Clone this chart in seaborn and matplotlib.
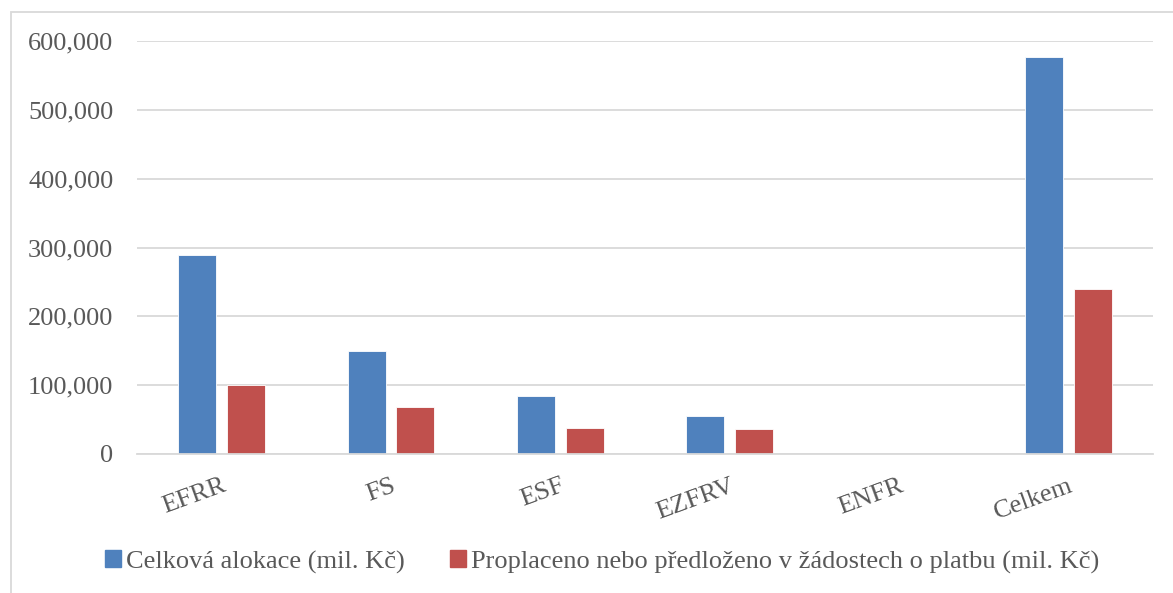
import matplotlib
matplotlib.use("Agg")
import matplotlib.pyplot as plt
from matplotlib.patches import Rectangle
from matplotlib.ticker import FuncFormatter
import pandas as pd
import seaborn as sns

# Values (mil. Kč)
categories = ['EFRR', 'FS', 'ESF', 'EZFRV', 'ENFR', 'Celkem']
alokace = [288700, 149200, 83800, 54800, 0, 576400]
proplaceno = [100300, 67800, 37300, 35900, 0, 239300]
series_names = ['Celková alokace (mil. Kč)',
                'Proplaceno nebo předloženo v žádostech o platbu (mil. Kč)']

df = pd.DataFrame({
    'Kategorie': categories * 2,
    'Hodnota': alokace + proplaceno,
    'Serie': [series_names[0]] * len(categories) + [series_names[1]] * len(categories),
})

sns.set_theme(style='white')
plt.rcParams['font.family'] = ['Liberation Serif', 'DejaVu Serif']
text_col = '#595959'
grid_col = '#D9D9D9'
colors = ['#4F81BD', '#C0504D']

fig = plt.figure(figsize=(11.73, 5.93), dpi=100)
ax = fig.add_axes([137 / 1173, 1 - 454 / 593, 1016 / 1173, 413 / 593])

sns.barplot(data=df, x='Kategorie', y='Hodnota', hue='Serie',
            palette=colors, saturation=1, width=0.574, gap=0.216,
            order=categories, hue_order=series_names, ax=ax,
            edgecolor='white', linewidth=0.6, errorbar=None)

ax.set_ylim(0, 600000)
ax.set_yticks(range(0, 600001, 100000))
ax.yaxis.set_major_formatter(FuncFormatter(lambda v, p: f'{int(v):,}'))
ax.set_xlim(-0.5, len(categories) - 0.5)
ax.set_axisbelow(True)
ax.grid(axis='y', color=grid_col, linewidth=1.3)
for s in ['top', 'right', 'left']:
    ax.spines[s].set_visible(False)
ax.spines['bottom'].set_color(grid_col)
ax.spines['bottom'].set_linewidth(1.3)
ax.set_xlabel('')
ax.set_ylabel('')
ax.tick_params(axis='both', length=0, labelsize=19, colors=text_col)
ax.tick_params(axis='y', pad=17)
for lab in ax.get_xticklabels():
    lab.set_rotation(20)
    lab.set_ha('right')
    lab.set_rotation_mode('anchor')
ax.tick_params(axis='x', pad=15)

ax.get_legend().remove()
handles = [Rectangle((0, 0), 1, 1, color=c) for c in colors]
leg = fig.legend(handles, series_names, loc='center', ncol=2,
                 bbox_to_anchor=(602 / 1173, 1 - 562 / 593), frameon=False,
                 fontsize=19, handlelength=0.6, handleheight=0.6,
                 handletextpad=0.2, columnspacing=1.7)
for t in leg.get_texts():
    t.set_color(text_col)

# outer chart frame
fig.patches.append(Rectangle((11 / 1173, -0.05), 1.1, 1 - 12 / 593 + 0.05,
                             transform=fig.transFigure, fill=False,
                             edgecolor=grid_col, linewidth=1.3))

fig.savefig('out.png', dpi=100)
